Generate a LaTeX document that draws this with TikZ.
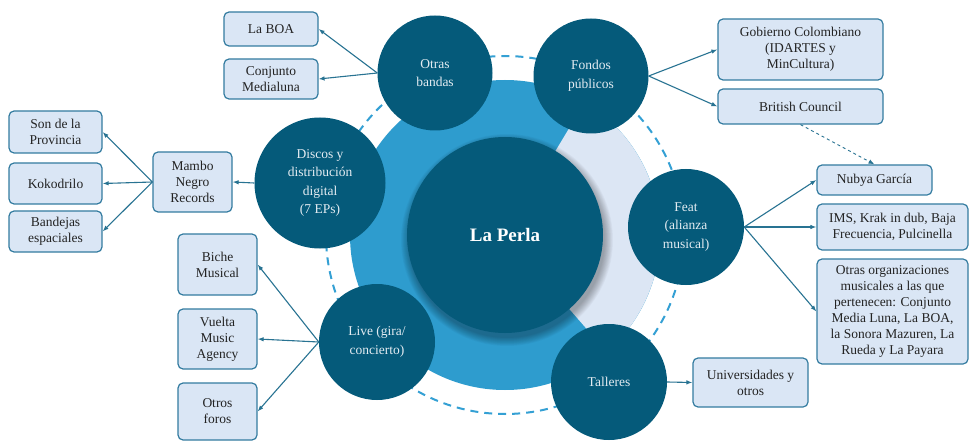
\documentclass[tikz,border=0pt]{standalone}
\usepackage{fontspec}
\setmainfont{Liberation Serif}
\usetikzlibrary{arrows.meta}
\definecolor{darkc}{RGB}{5,90,122}
\definecolor{ringblue}{RGB}{46,156,206}
\definecolor{ringlight}{RGB}{220,230,244}
\definecolor{dashc}{RGB}{52,160,212}
\definecolor{boxfill}{RGB}{218,230,245}
\definecolor{boxline}{RGB}{52,124,160}
\definecolor{linec}{RGB}{40,115,146}
\definecolor{boxtext}{RGB}{35,35,35}
\definecolor{sattext}{RGB}{228,236,242}
\tikzset{
  sat/.style={circle, fill=darkc, draw=none, text=sattext, align=center, inner sep=0pt,
    font=\fontsize{13.5}{18.5}\selectfont},
  infobox/.style={rectangle, rounded corners=5pt, fill=boxfill, draw=boxline, line width=1.2pt,
    text=boxtext, align=center, inner sep=2pt, font=\fontsize{13.5}{16}\selectfont},
  conn/.style={draw=linec, line width=1.1pt, -{Latex[length=6pt,width=4.5pt]}},
  dconn/.style={draw=linec, line width=0.9pt, dashed, -{Latex[length=6pt,width=4.5pt]}}
}
\begin{document}
\begin{tikzpicture}[x=1pt,y=-1pt]
\useasboundingbox (0,0) rectangle (970,441);
\fill[white] (0,0) rectangle (970,441);
% dashed orbit
\draw[dashc, line width=2pt, dash pattern=on 8pt off 6pt] (505,235) circle[radius=179];
% ring
\fill[ringblue] (505,235) circle[radius=155];
\fill[ringlight] (505,235) -- ++(-59:155) arc[start angle=-59, end angle=49, radius=155] -- cycle;
% soft shadow of central disk
\foreach \k in {1,...,12}{
  \fill[black, opacity=0.028] (507,240) circle[radius=97+\k*0.75];
}
\node[circle, fill=darkc, minimum size=196pt, inner sep=0pt, text=white,
  font=\fontsize{19}{22}\selectfont\bfseries] (perla) at (505,235) {La Perla};
% satellites
\node[sat, minimum size=115pt] (otras) at (435,73) {Otras\\bandas};
\node[sat, minimum size=115pt] (fondos) at (591,76) {Fondos\\públicos};
\node[sat, minimum size=131pt] (discos) at (320,183) {Discos y\\distribución\\digital\\(7 EPs)};
\node[sat, minimum size=116pt] (feat) at (686,227) {Feat\\(alianza\\musical)};
\node[sat, minimum size=116pt] (live) at (377,342) {Live (gira/\\concierto)};
\node[sat, minimum size=116pt] (talleres) at (609,382) {Talleres};
% boxes
\node[infobox, minimum width=94pt, minimum height=34pt] (boa) at (271,29) {La BOA};
\node[infobox, minimum width=94pt, minimum height=40pt] (conj) at (271,79) {Conjunto\\Medialuna};
\node[infobox, minimum width=93pt, minimum height=42pt] (son) at (55.5,132) {Son de la\\Provincia};
\node[infobox, minimum width=93pt, minimum height=41pt] (koko) at (55.5,183.5) {Kokodrilo};
\node[infobox, minimum width=93pt, minimum height=41pt] (band) at (55.5,231.5) {Bandejas\\espaciales};
\node[infobox, minimum width=79pt, minimum height=60pt] (mambo) at (192.5,182) {Mambo\\Negro\\Records};
\node[infobox, minimum width=79pt, minimum height=61pt] (biche) at (217.5,264.5) {Biche\\Musical};
\node[infobox, minimum width=79pt, minimum height=60pt] (vuelta) at (217.5,339) {Vuelta\\Music\\Agency};
\node[infobox, minimum width=79pt, minimum height=57pt] (foros) at (217.5,411.5) {Otros\\foros};
\node[infobox, minimum width=165pt, minimum height=61pt] (gob) at (800.5,49.5) {Gobierno Colombiano\\(IDARTES y\\MinCultura)};
\node[infobox, minimum width=165pt, minimum height=35pt] (brit) at (800.5,106.5) {British Council};
\node[infobox, minimum width=115pt, minimum height=30pt] (nubya) at (874.5,180) {Nubya García};
\node[infobox, minimum width=151pt, minimum height=46pt] (ims) at (892.5,227) {IMS, Krak in dub, Baja\\Frecuencia, Pulcinella};
\node[infobox, minimum width=151pt, minimum height=105pt] (otrasorg) at (892.5,311.5) {Otras organizaciones\\musicales a las que\\pertenecen: Conjunto\\Media Luna, La BOA,\\la Sonora Mazuren, La\\Rueda y La Payara};
\node[infobox, minimum width=115pt, minimum height=49pt] (univ) at (750.5,382.5) {Universidades y\\otros};
% connectors
\draw[conn] (otras.west) -- (boa.east);
\draw[conn] (otras.west) -- (conj.east);
\draw[conn] (discos.west) -- (mambo.east);
\draw[conn] (mambo.west) -- (son.east);
\draw[conn] (mambo.west) -- (koko.east);
\draw[conn] (mambo.west) -- (band.east);
\draw[conn] (live.west) -- (biche.east);
\draw[conn] (live.west) -- (vuelta.east);
\draw[conn] (live.west) -- (foros.east);
\draw[conn] (fondos.east) -- (gob.west);
\draw[conn] (fondos.east) -- (brit.west);
\draw[dconn] (brit.south) -- (nubya.north);
\draw[conn] (feat.east) -- (nubya.west);
\draw[conn] (feat.east) -- (ims.west);
\draw[conn] (feat.east) -- (otrasorg.west);
\draw[conn] (talleres.east) -- (univ.west);
\end{tikzpicture}
\end{document}
